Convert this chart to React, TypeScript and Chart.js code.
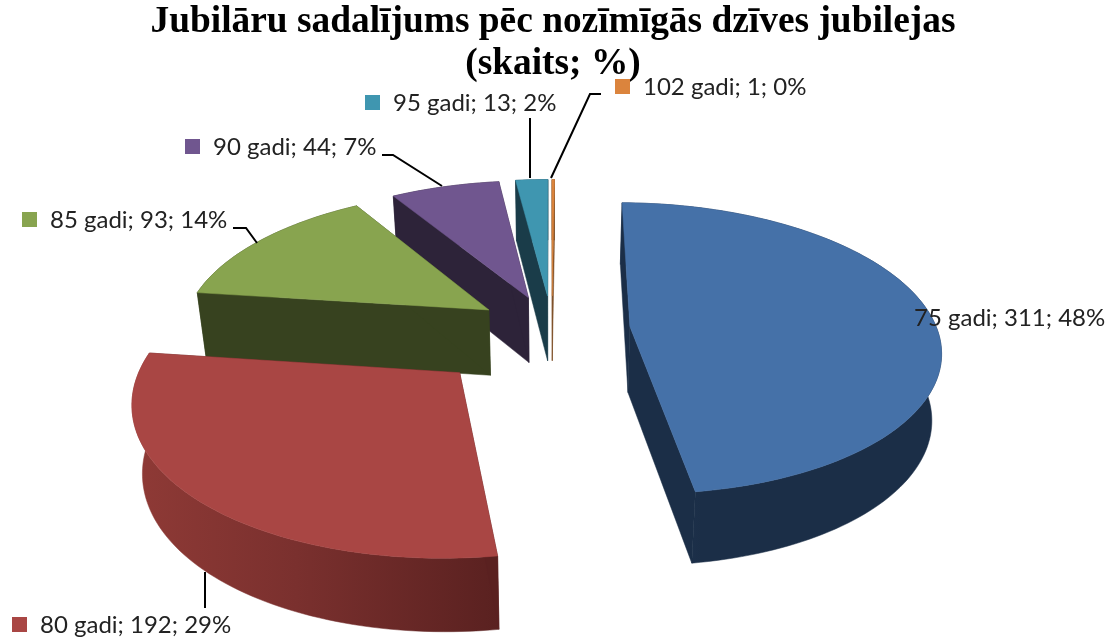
import React, { useEffect, useRef } from "react";
import { Chart, registerables } from "chart.js";

Chart.register(...registerables);

// ---- data ----
const categories = ["75 gadi", "80 gadi", "85 gadi", "90 gadi", "95 gadi", "102 gadi"];
const counts = [311, 192, 93, 44, 13, 1];

// ---- style ----
const topColors = ["#4571a8", "#a94644", "#88a44f", "#70568f", "#3f96b0", "#db843d"];
const sideColors = ["#1b2e47", "#5a2120", "#37421f", "#2d2339", "#1a3c49", "#7a4a20"];
const wallStops: string[][] = [
  ["#243a58", "#1b2e47", "#1b2e47"],
  ["#8f3a36", "#7a302e", "#5a2120"],
  ["#37421f", "#37421f", "#37421f"],
  ["#2d2339", "#2d2339", "#2d2339"],
  ["#1a3c49", "#1a3c49", "#1a3c49"],
  ["#7a4a20", "#7a4a20", "#7a4a20"],
];
const explode = [51, 82, 50, 48, 48, 48];

// ---- layout of annotations ----
const labelX = [914, 40, 50, 213, 393, 643];
const labelY = [318, 625, 220, 147, 103, 87];
const keyGap = 28;
const leaders: number[][][] = [
  [],
  [[205, 572], [205, 608]],
  [[233, 228], [246, 228], [257, 243]],
  [[382, 155], [393, 155], [442, 186]],
  [[530, 118], [530, 178]],
  [[601, 94], [590, 94], [551, 178]],
];

// ---- camera ----
const R = 200;
const CX = 552;
const CY = 329;
const RX = 307;
const RY = 143;
const P = 0.15;
const DEPTH = 66;
const BOTTOM_SHRINK = 0.975;

const pie3d = {
  id: "pie3d",
  beforeDatasetsDraw(chart: any) {
    const ctx = chart.ctx;
    const meta = chart.getDatasetMeta(0);
    const order = [5, 4, 3, 2, 1, 0];
    order.forEach((i) => {
      const arc = meta.data[i];
      const { x, y, startAngle, endAngle, outerRadius } = arc.getProps(
        ["x", "y", "startAngle", "endAngle", "outerRadius"],
        true
      );
      const off = arc.options.offset || 0;
      const mid = (startAngle + endAngle) / 2;
      const ax = x + Math.cos(mid) * off;
      const ay = y + Math.sin(mid) * off;
      const project = (px: number, py: number) => {
        const X = (px - x) / R;
        const Y = (py - y) / R;
        const w = 1 - P * Y;
        return { x: CX + (RX * X) / w, y: CY + (RY * Y) / w, d: DEPTH / Math.sqrt(w) };
      };
      const n = Math.max(4, Math.ceil((endAngle - startAngle) * 40));
      const rim: { x: number; y: number; d: number }[] = [];
      for (let k = 0; k <= n; k++) {
        const a = startAngle + ((endAngle - startAngle) * k) / n;
        rim.push(project(ax + Math.cos(a) * outerRadius, ay + Math.sin(a) * outerRadius));
      }
      const A = project(ax, ay);
      const poly = (pts: { x: number; y: number }[], fill: any) => {
        ctx.beginPath();
        pts.forEach((p, j) => (j ? ctx.lineTo(p.x, p.y) : ctx.moveTo(p.x, p.y)));
        ctx.closePath();
        ctx.fillStyle = fill;
        ctx.fill();
        ctx.strokeStyle = fill;
        ctx.lineWidth = 0.5;
        ctx.stroke();
      };
      const down = (p: { x: number; y: number; d: number }) => ({
        x: CX + (p.x - CX) * BOTTOM_SHRINK,
        y: p.y + p.d,
      });

      // outer wall
      const xs = rim.map((p) => p.x);
      const x0 = Math.min(...xs);
      const x1 = Math.max(...xs);
      const grad = ctx.createLinearGradient(x0, 0, Math.max(x1, x0 + 1), 0);
      const stops = wallStops[i];
      if (i === 0) {
        grad.addColorStop(0, stops[0]);
        grad.addColorStop(0.25, stops[1]);
        grad.addColorStop(1, stops[2]);
      } else {
        grad.addColorStop(0, stops[0]);
        grad.addColorStop(0.45, stops[1]);
        grad.addColorStop(1, stops[2]);
      }
      poly([...rim, ...rim.map(down).reverse()], grad);

      // radial walls
      const S = rim[0];
      const E = rim[rim.length - 1];
      poly([A, S, down(S), down(A)], sideColors[i]);
      poly([A, E, down(E), down(A)], sideColors[i]);

      // top face
      poly([A, ...rim], arc.options.backgroundColor);
    });
    return false;
  },
  afterDraw(chart: any) {
    const ctx = chart.ctx;
    const total = counts.reduce((a, b) => a + b, 0);
    ctx.save();
    leaders.forEach((line) => {
      if (!line.length) return;
      ctx.beginPath();
      line.forEach(([lx, ly], j) => (j ? ctx.lineTo(lx, ly) : ctx.moveTo(lx, ly)));
      ctx.strokeStyle = "#000";
      ctx.lineWidth = 2;
      ctx.stroke();
    });
    categories.forEach((c, i) => {
      const text = `${c}; ${counts[i]}; ${Math.round((counts[i] / total) * 100)}%`;
      ctx.fillStyle = topColors[i];
      ctx.fillRect(labelX[i] - keyGap, labelY[i] - 8, 15, 15);
      ctx.fillStyle = "#222";
      ctx.font = "24px Lato";
      ctx.textBaseline = "middle";
      ctx.textAlign = "left";
      ctx.fillText(text, labelX[i], labelY[i]);
    });
    ctx.restore();
  },
};

export default function App() {
  const ref = useRef<HTMLCanvasElement>(null);
  useEffect(() => {
    document.body.style.margin = "0";
    const chart = new Chart(ref.current as HTMLCanvasElement, {
      type: "pie",
      data: {
        labels: categories,
        datasets: [
          {
            data: counts,
            backgroundColor: topColors,
            borderWidth: 0,
            offset: explode,
          },
        ],
      },
      options: {
        responsive: false,
        animation: false,
        events: [],
        radius: R,
        rotation: 0.5,
        layout: { padding: { left: 0, right: 11, top: 0, bottom: 0 } },
        plugins: {
          legend: { display: false },
          tooltip: { enabled: false },
          title: {
            display: true,
            text: ["Jubilāru sadalījums pēc nozīmīgās dzīves jubilejas", "(skaits; %)"],
            color: "#000",
            font: { family: "'Liberation Serif'", size: 37.4, weight: "bold", lineHeight: 1.125 },
            padding: { top: 1, bottom: 0 },
          },
        },
      },
      plugins: [pie3d],
    } as any);
    return () => chart.destroy();
  }, []);
  return (
    <div style={{ width: 1117, height: 642, background: "#fff" }}>
      <canvas ref={ref} width={1117} height={642} style={{ display: "block" }} />
    </div>
  );
}
